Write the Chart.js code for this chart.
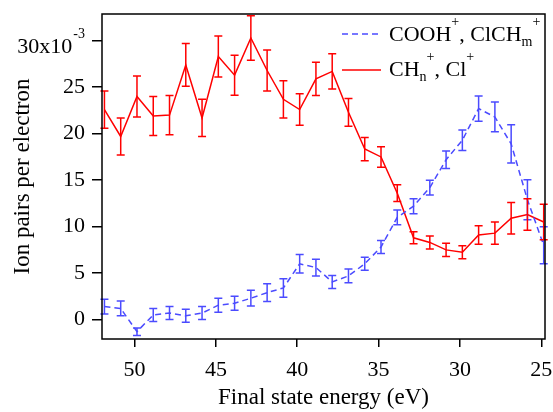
<!DOCTYPE html>
<html>
<head>
<meta charset="utf-8">
<script src="https://cdn.jsdelivr.net/npm/chart.js@4.4.0/dist/chart.umd.min.js"></script>
<style>
  html, body { margin: 0; padding: 0; background: #fff; }
  #grafico { display: block; }
</style>
</head>
<body>
<canvas id="grafico" width="553" height="412"></canvas>
<script>
// Energías del estado final (eV)
const energias = [51.85, 50.85, 49.85, 48.85, 47.85, 46.85, 45.85, 44.85, 43.85, 42.85,
                  41.85, 40.85, 39.85, 38.85, 37.85, 36.85, 35.85, 34.85, 33.85, 32.85,
                  31.85, 30.85, 29.85, 28.85, 27.85, 26.85, 25.85, 24.85];

// COOH+, ClCHm+  (x10^-3)
const cooh    = [1.4, 1.2, -1.3, 0.5, 0.7, 0.4, 0.7, 1.55, 1.75, 2.3,
                 2.9, 3.4, 6.0, 5.6, 4.05, 4.7, 6.0, 7.8, 11.0, 12.2,
                 14.2, 17.2, 19.3, 22.7, 21.8, 18.9, 12.9, 8.0];
const coohErr = [0.8, 0.8, 0.4, 0.7, 0.7, 0.7, 0.7, 0.75, 0.75, 0.85,
                 0.95, 1.0, 1.0, 0.9, 0.7, 0.75, 0.7, 0.7, 0.8, 0.8,
                 0.8, 0.95, 1.1, 1.35, 1.6, 2.05, 2.15, 2.0];

// CHn+, Cl+  (x10^-3)
const chn    = [22.6, 19.7, 24.0, 21.9, 22.0, 27.4, 21.7, 28.3, 26.3, 30.3,
                26.8, 23.7, 22.6, 25.9, 26.7, 22.3, 18.35, 17.5, 13.6, 8.8,
                8.3, 7.5, 7.25, 9.1, 9.3, 10.9, 11.3, 10.5];
const chnErr = [2.0, 2.0, 2.2, 2.1, 2.1, 2.3, 2.0, 2.2, 2.15, 2.4,
                2.2, 2.0, 1.7, 1.8, 1.9, 1.5, 1.25, 1.1, 0.9, 0.65,
                0.7, 0.7, 0.7, 1.0, 1.2, 1.7, 1.7, 1.9];

const ticksX = [25, 30, 35, 40, 45, 50];
const ticksY = [0, 5, 10, 15, 20, 25, 30];

const AZUL = '#4b4bff';
const ROJO = '#ff0000';
const FUENTE = '"Liberation Serif", "Times New Roman", serif';

// --- Barras de error, con las escalas del propio gráfico ---
const barrasError = {
  id: 'barrasError',
  afterDatasetsDraw(chart) {
    const ctx = chart.ctx;
    const sx = chart.scales.x, sy = chart.scales.y;
    chart.data.datasets.forEach(ds => {
      ctx.save();
      ctx.strokeStyle = ds.borderColor;
      ctx.lineWidth = 1.5;
      ctx.setLineDash([]);
      ds.data.forEach((p, i) => {
        const e = ds.errores[i];
        const x = sx.getPixelForValue(p.x);
        const y1 = sy.getPixelForValue(p.y + e);
        const y2 = sy.getPixelForValue(p.y - e);
        ctx.beginPath();
        ctx.moveTo(x, y1); ctx.lineTo(x, y2);
        ctx.moveTo(x - 4, y1); ctx.lineTo(x + 4, y1);
        ctx.moveTo(x - 4, y2); ctx.lineTo(x + 4, y2);
        ctx.stroke();
      });
      ctx.restore();
    });
  }
};

// texto con subíndices y superíndices: [texto, 'n'|'sub'|'sup']
function textoRico(ctx, partes, x, y) {
  partes.forEach(([t, tipo]) => {
    if (tipo === 'n') {
      ctx.font = '22px ' + FUENTE;
      ctx.fillText(t, x, y);
    } else {
      ctx.font = '14px ' + FUENTE;
      ctx.fillText(t, x, tipo === 'sub' ? y + 5 : y - 15);
    }
    x += ctx.measureText(t).width;
  });
}

// --- Marco, etiqueta 30x10^-3 y leyenda ---
const decorado = {
  id: 'decorado',
  afterDraw(chart) {
    const ctx = chart.ctx;
    const a = chart.chartArea;
    ctx.save();
    ctx.strokeStyle = '#000';
    ctx.lineWidth = 1.5;
    ctx.strokeRect(a.left, a.top, a.right - a.left, a.bottom - a.top);

    // etiqueta del exponente
    const y30 = chart.scales.y.getPixelForValue(30);
    const derecha = a.left - 17;
    ctx.fillStyle = '#000';
    ctx.textAlign = 'right';
    ctx.textBaseline = 'alphabetic';
    ctx.font = '14px ' + FUENTE;
    const wSup = ctx.measureText('-3').width;
    ctx.fillText('-3', derecha, y30 - 2.4);
    ctx.font = '22px ' + FUENTE;
    ctx.fillText('30x10', derecha - wSup - 1, y30 + 12.6);

    // leyenda
    ctx.textAlign = 'left';
    ctx.lineWidth = 1.5;
    ctx.strokeStyle = AZUL;
    ctx.setLineDash([6, 4]);
    ctx.beginPath(); ctx.moveTo(342, 34); ctx.lineTo(381, 34); ctx.stroke();
    ctx.strokeStyle = ROJO;
    ctx.setLineDash([]);
    ctx.beginPath(); ctx.moveTo(342, 70); ctx.lineTo(381, 70); ctx.stroke();
    ctx.fillStyle = '#000';
    textoRico(ctx, [['COOH', 'n'], ['+', 'sup'], [', ClCH', 'n'], ['m', 'sub'], ['+', 'sup']], 389, 41);
    textoRico(ctx, [['CH', 'n'], ['n', 'sub'], ['+', 'sup'], [', Cl', 'n'], ['+', 'sup']], 389, 76);
    ctx.restore();
  }
};

// quita el relleno automático que Chart.js reserva para las etiquetas
function sinRelleno(s) {
  s.paddingTop = 0; s.paddingBottom = 0; s.paddingLeft = 0; s.paddingRight = 0;
}

new Chart(document.getElementById('grafico').getContext('2d'), {
  type: 'line',
  data: {
    datasets: [
      {
        label: 'COOH+, ClCHm+',
        data: energias.map((e, i) => ({ x: e, y: cooh[i] })),
        errores: coohErr,
        borderColor: AZUL,
        borderWidth: 1.5,
        borderDash: [6, 4],
        pointRadius: 0,
        tension: 0,
        clip: false
      },
      {
        label: 'CHn+, Cl+',
        data: energias.map((e, i) => ({ x: e, y: chn[i] })),
        errores: chnErr,
        borderColor: ROJO,
        borderWidth: 1.5,
        pointRadius: 0,
        tension: 0,
        clip: false
      }
    ]
  },
  options: {
    responsive: false,
    animation: false,
    devicePixelRatio: 1,
    layout: { padding: { left: 0, right: 8, top: 14, bottom: 0 } },
    plugins: { legend: { display: false }, tooltip: { enabled: false } },
    scales: {
      x: {
        type: 'linear',
        reverse: true,
        min: 24.77,
        max: 52.0,
        afterBuildTicks: s => { s.ticks = ticksX.map(v => ({ value: v })); },
        afterFit: s => { s.height = 73; sinRelleno(s); },
        border: { display: false },
        grid: { drawOnChartArea: false, drawTicks: true, tickLength: 8, color: '#000', lineWidth: 1.5 },
        ticks: { color: '#000', font: { family: FUENTE, size: 22 }, padding: 10, maxRotation: 0, autoSkip: false },
        title: { display: true, text: 'Final state energy (eV)', color: '#000',
                 font: { family: FUENTE, size: 23 }, padding: { top: 0, bottom: 0 } }
      },
      y: {
        type: 'linear',
        min: -2.09,
        max: 32.88,
        afterBuildTicks: s => { s.ticks = ticksY.map(v => ({ value: v })); },
        afterFit: s => { s.width = 102; sinRelleno(s); },
        border: { display: false },
        grid: { drawOnChartArea: false, drawTicks: true, tickLength: 10, color: '#000', lineWidth: 1.5 },
        ticks: { color: '#000', font: { family: FUENTE, size: 22 }, padding: 7,
                 callback: v => (v === 30 ? '' : v) },
        title: { display: true, text: 'Ion pairs per electron', color: '#000',
                 font: { family: FUENTE, size: 23 }, padding: { top: 9, bottom: 0 } }
      }
    }
  },
  plugins: [barrasError, decorado]
});
</script>
</body>
</html>
